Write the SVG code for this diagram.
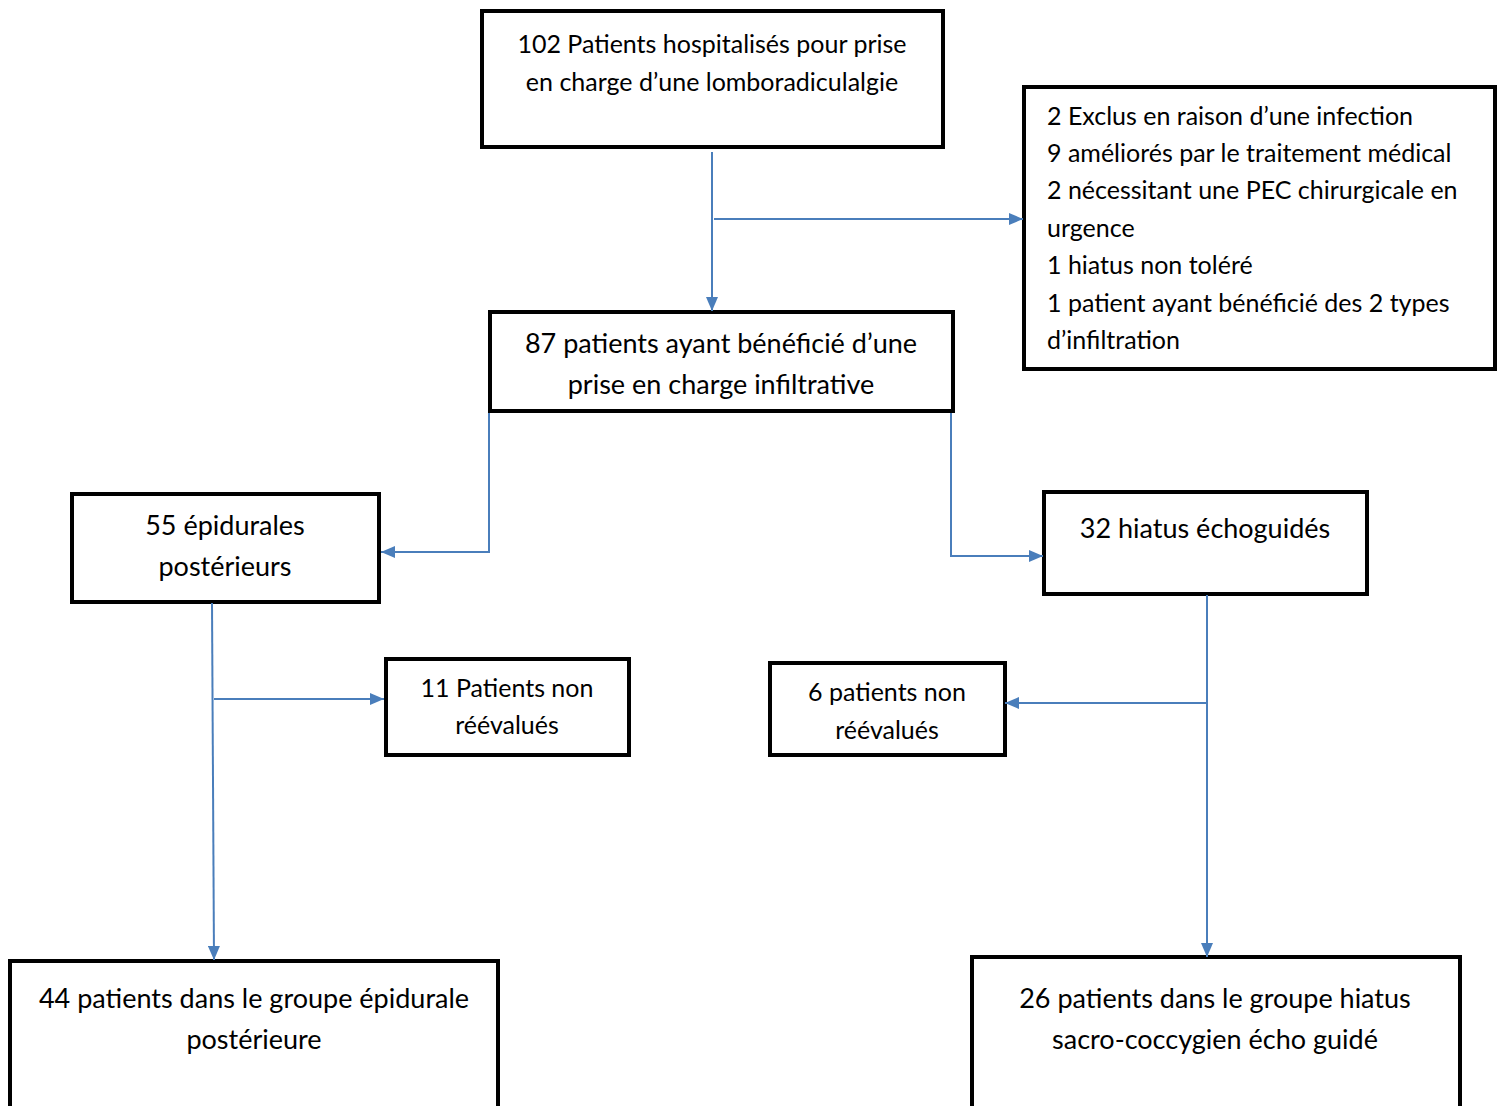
<svg xmlns="http://www.w3.org/2000/svg" width="1506" height="1106" viewBox="0 0 1506 1106">
<style>
.box{fill:#fff;stroke:#000;stroke-width:4}
text{font-family:Lato,"Open Sans","Liberation Sans",sans-serif;fill:#000;font-size:25px}
.c{text-anchor:middle}
.big{font-size:27px}
.con{fill:none;stroke:#4a7ebb;stroke-width:2}
</style>
<defs>
<marker id="ah" markerWidth="14" markerHeight="12" refX="14" refY="6" orient="auto" markerUnits="userSpaceOnUse">
<path d="M0,0 L14,6 L0,12 Z" fill="#4a7ebb"/>
</marker>
</defs>
<rect width="1506" height="1106" fill="#fff"/>
<g id="n1"><rect class="box" x="482" y="11" width="461" height="136"/>
<text class="c" x="712" y="53">102 Patients hospitalisés pour prise</text>
<text class="c" x="712" y="91">en charge d’une lomboradiculalgie</text></g>
<g id="n2"><rect class="box" x="1024" y="87" width="471" height="282"/>
<text x="1047" y="125">2 Exclus en raison d’une infection</text>
<text x="1047" y="162">9 améliorés par le traitement médical</text>
<text x="1047" y="199">2 nécessitant une PEC chirurgicale en</text>
<text x="1047" y="237">urgence</text>
<text x="1047" y="274">1 hiatus non toléré</text>
<text x="1047" y="312">1 patient ayant bénéficié des 2 types</text>
<text x="1047" y="349">d’infiltration</text></g>
<g id="n3"><rect class="box" x="490" y="312" width="463" height="99"/>
<text class="c big" x="721" y="353">87 patients ayant bénéficié d’une</text>
<text class="c big" x="721" y="394">prise en charge infiltrative</text></g>
<g id="n4"><rect class="box" x="72" y="494" width="307" height="108"/>
<text class="c big" x="225" y="535">55 épidurales</text>
<text class="c big" x="225" y="576">postérieurs</text></g>
<g id="n5"><rect class="box" x="1044" y="492" width="323" height="102"/>
<text class="c big" x="1205" y="538">32 hiatus échoguidés</text></g>
<g id="n6"><rect class="box" x="386" y="659" width="243" height="96"/>
<text class="c" x="507" y="697">11 Patients non</text>
<text class="c" x="507" y="734">réévalués</text></g>
<g id="n7"><rect class="box" x="770" y="663" width="235" height="92"/>
<text class="c" x="887" y="701">6 patients non</text>
<text class="c" x="887" y="739">réévalués</text></g>
<g id="n8"><rect class="box" x="10" y="961" width="488" height="150"/>
<text class="c big" x="254" y="1008">44 patients dans le groupe épidurale</text>
<text class="c big" x="254" y="1049">postérieure</text></g>
<g id="n9"><rect class="box" x="972" y="957" width="488" height="154"/>
<text class="c big" x="1215" y="1008">26 patients dans le groupe hiatus</text>
<text class="c big" x="1215" y="1049">sacro-coccygien écho guidé</text></g>
<g id="connectors">
<path class="con" d="M712,152 V311" marker-end="url(#ah)"/>
<path class="con" d="M714,219 H1023" marker-end="url(#ah)"/>
<path class="con" d="M489,413 V552 H381" marker-end="url(#ah)"/>
<path class="con" d="M951,413 V556 H1043" marker-end="url(#ah)"/>
<path class="con" d="M212,603 L214,960" marker-end="url(#ah)"/>
<path class="con" d="M214,699 H384" marker-end="url(#ah)"/>
<path class="con" d="M1207,595 V957" marker-end="url(#ah)"/>
<path class="con" d="M1207,703 H1005" marker-end="url(#ah)"/>
</g>
</svg>
